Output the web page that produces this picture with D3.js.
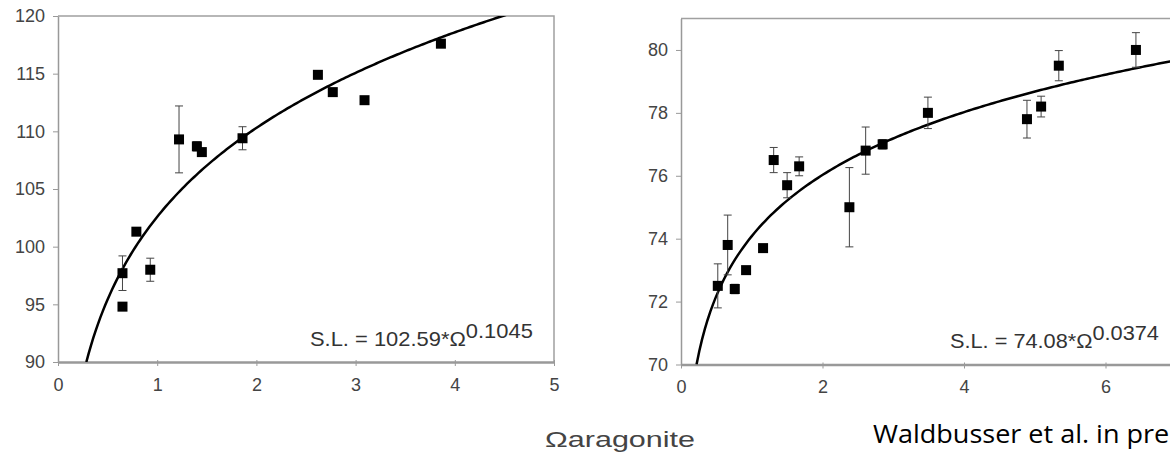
<!doctype html>
<html>
    <head>
        <script src="https://cdn.jsdelivr.net/npm/d3@7"></script>
        <style type="text/css">
            body    {
                margin:0;
                background:#fff;
            }
            svg {
                display:block;
            }
            .tick text  {
                fill:#444;
                font-family:"Liberation Sans",Arial,sans-serif;
                font-size:18px;
            }
            .axis path, .axis line  {
                stroke:#999;
            }
        </style>
    </head>
    <body>
        <script>
            //left panel : shell length vs omega aragonite
            var leftOmega = [0.65, 0.65, 0.79, 0.93, 1.22, 1.40, 1.45, 1.86, 2.62, 2.77, 3.09, 3.86];
            var leftSL    = [97.7, 94.8, 101.3, 98.0, 109.3, 108.7, 108.2, 109.4, 114.9, 113.4, 112.7, 117.6];
            var leftErr   = [1.5, 0, 0.3, 1.0, 2.9, 0.4, 0, 1.0, 0, 0, 0, 0];
            var leftXTicks = [0, 1, 2, 3, 4, 5];
            var leftYTicks = [90, 95, 100, 105, 110, 115, 120];
            var leftFit = {a:102.59, b:0.1045};

            //right panel (cut at the right edge of the picture)
            var rightOmega = [0.52, 0.66, 0.76, 0.92, 1.16, 1.31, 1.50, 1.67, 2.38, 2.61, 2.85, 3.49, 4.89, 5.09, 5.34, 6.43];
            var rightSL    = [72.5, 73.8, 72.4, 73.0, 73.7, 76.5, 75.7, 76.3, 75.0, 76.8, 77.0, 78.0, 77.8, 78.2, 79.5, 80.0];
            var rightErr   = [0.7, 0.95, 0.15, 0, 0, 0.4, 0.4, 0.3, 1.26, 0.75, 0.15, 0.5, 0.6, 0.33, 0.48, 0.55];
            var rightXTicks = [0, 2, 4, 6];
            var rightYTicks = [70, 72, 74, 76, 78, 80];
            var rightFit = {a:74.08, b:0.0374};

            var svg = d3.select("body").append("svg")
                .attr("width", 1170)
                .attr("height", 456);

            function panel(id, xs, ys, err, xTicks, yTicks, fit, xDom, yDom, box, eqPos, eqLen) {
                var x = d3.scaleLinear().domain(xDom).range([box.l, box.r]);
                var y = d3.scaleLinear().domain(yDom).range([box.b, box.t]);
                var g = svg.append("g");

                g.append("clipPath").attr("id", id)
                    .append("rect")
                    .attr("x", box.l).attr("y", box.t)
                    .attr("width", box.r - box.l).attr("height", box.b - box.t);

                //frame top and right
                g.append("path")
                    .attr("d", "M" + box.l + "," + box.t + "H" + box.r + "V" + box.b)
                    .attr("fill", "none")
                    .attr("stroke", "#a0a0a0")
                    .attr("stroke-width", 1.5);

                var yAxis = g.append("g").attr("class", "axis")
                    .attr("transform", "translate(" + box.l + ",0)")
                    .call(d3.axisLeft(y).tickValues(yTicks).tickSize(5).tickPadding(8).tickSizeOuter(0));
                yAxis.select(".domain").attr("stroke-width", 1.5);

                var xAxis = g.append("g").attr("class", "axis")
                    .attr("transform", "translate(0," + box.b + ")")
                    .call(d3.axisBottom(x).tickValues(xTicks).tickFormat(d3.format("d"))
                        .tickSize(4).tickPadding(12).tickSizeOuter(0));
                xAxis.select(".domain").attr("stroke-width", 2.5).attr("stroke", "#aaa");
                xAxis.selectAll(".tick line").attr("y1", -2);

                //power fit curve
                var x0 = Math.pow(yDom[0] / fit.a, 1 / fit.b);
                var curve = d3.range(0, 201).map(function(i) {
                    var xv = x0 + (xDom[1] - x0) * i / 200;
                    return [xv, fit.a * Math.pow(xv, fit.b)];
                });
                g.append("path")
                    .datum(curve)
                    .attr("clip-path", "url(#" + id + ")")
                    .attr("fill", "none")
                    .attr("stroke", "#000")
                    .attr("stroke-width", 2.5)
                    .attr("d", d3.line().x(function(d) { return x(d[0]); }).y(function(d) { return y(d[1]); }));

                var pts = xs.map(function(v, i) { return {x:v, y:ys[i], e:err[i]}; });

                //error bars
                var eb = g.append("g").attr("stroke", "#444").attr("stroke-width", 1)
                    .selectAll("g").data(pts.filter(function(d) { return d.e > 0; }))
                    .enter().append("g");
                eb.append("line")
                    .attr("x1", function(d) { return x(d.x); }).attr("x2", function(d) { return x(d.x); })
                    .attr("y1", function(d) { return y(d.y - d.e); }).attr("y2", function(d) { return y(d.y + d.e); });
                [-1, 1].forEach(function(s) {
                    eb.append("line")
                        .attr("x1", function(d) { return x(d.x) - 4; }).attr("x2", function(d) { return x(d.x) + 4; })
                        .attr("y1", function(d) { return y(d.y + s * d.e); }).attr("y2", function(d) { return y(d.y + s * d.e); });
                });

                //square markers
                g.append("g").selectAll("rect").data(pts).enter()
                    .append("rect")
                    .attr("x", function(d) { return x(d.x) - 5; })
                    .attr("y", function(d) { return y(d.y) - 5; })
                    .attr("width", 10).attr("height", 10)
                    .attr("fill", "#000");

                //equation
                var eq = g.append("text")
                    .attr("x", eqPos[0]).attr("y", eqPos[1])
                    .attr("fill", "#333")
                    .style("font-family", "'Liberation Sans',Arial,sans-serif")
                    .style("font-size", "20px");
                eq.append("tspan").text("S.L. = " + fit.a.toFixed(2) + "*\u03A9");
                eq.append("tspan").attr("dy", -8).text(fit.b.toFixed(4));
                var w = eq.node().getComputedTextLength();
                eq.attr("transform", "translate(" + eqPos[0] + "," + eqPos[1] + ") scale(" + (eqLen / w) + ",1) translate(" + (-eqPos[0]) + "," + (-eqPos[1]) + ")");
            }

            panel("clipL", leftOmega, leftSL, leftErr, leftXTicks, leftYTicks, leftFit,
                [0, 5], [90, 120], {l:58, r:554, t:16, b:362}, [310, 346], 223);
            panel("clipR", rightOmega, rightSL, rightErr, rightXTicks, rightYTicks, rightFit,
                [0, 8], [70, 81], {l:681, r:1247, t:18.5, b:364.5}, [950, 348], 209);

            svg.append("text")
                .attr("x", 545).attr("y", 447)
                .attr("fill", "#444")
                .attr("textLength", 150)
                .attr("lengthAdjust", "spacingAndGlyphs")
                .style("font-family", "'Liberation Sans',Arial,sans-serif")
                .style("font-size", "22px")
                .text("\u03A9aragonite");

            //source note, runs past the right edge as in the original figure
            svg.append("text")
                .attr("x", 873).attr("y", 443)
                .attr("fill", "#000")
                .attr("textLength", 322)
                .attr("lengthAdjust", "spacingAndGlyphs")
                .style("font-family", "'Open Sans',sans-serif")
                .style("font-size", "26px")
                .text("Waldbusser et al. in press");
        </script>
    </body>
</html>
